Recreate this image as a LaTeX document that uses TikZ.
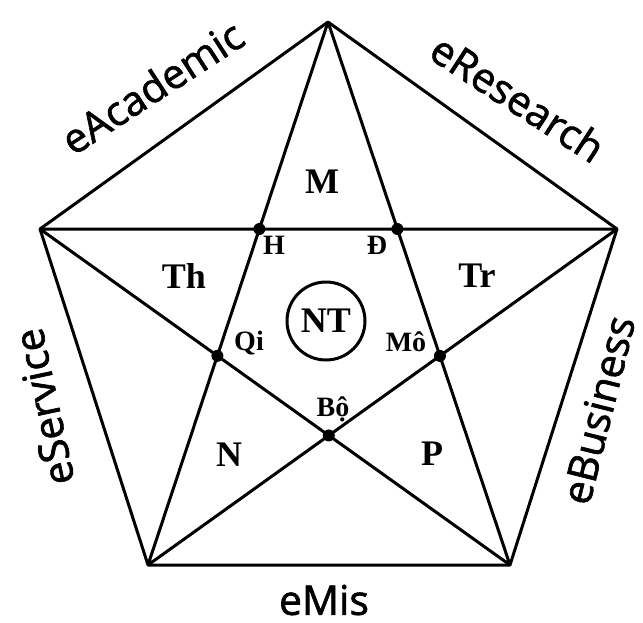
\documentclass[tikz,border=0pt]{standalone}
\usepackage{fontspec}
\setmainfont{Liberation Serif}
\newfontfamily\sidefont[FakeBold = 1.6]{Open Sans}
\begin{document}
\begin{tikzpicture}[x = 1pt, y = -1pt,
    edge/.style = {line width = 3pt, line join = round},
    junction/.style = {circle, fill, inner sep = 0pt, minimum size = 12pt},
    region/.style = {font = \fontsize{36}{36}\selectfont\bfseries},
    corner/.style = {font = \fontsize{28}{28}\selectfont\bfseries},
    side/.style = {inner sep = 0pt, font = \fontsize{41}{41}\selectfont\sidefont}]
      \useasboundingbox (0,0) rectangle (643,622);
      \coordinate (top) at (328,22);
      \coordinate (ul) at (40,229);
      \coordinate (ur) at (617,229);
      \coordinate (ll) at (148,565);
      \coordinate (lr) at (510,565);
      \draw [edge] (top) -- (ur) -- (lr) -- (ll) -- (ul) -- cycle;
      \draw [edge] (top) -- (ll) (top) -- (lr) (ul) -- (ur)
        (ul) -- (lr) (ur) -- (ll);
      \node [junction] (h) at (intersection of top--ll and ul--ur) {};
      \node [junction] (d) at (intersection of top--lr and ul--ur) {};
      \node [junction] (qi) at (intersection of top--ll and ul--lr) {};
      \node [junction] (mo) at (intersection of top--lr and ur--ll) {};
      \node [junction] (bo) at (intersection of ul--lr and ur--ll) {};
      \node [circle, draw, line width = 3pt, minimum size = 78pt,
             inner sep = 0pt, region] (nt) at (326,321) {NT};
      % labels of the regions
      \node [region] (m) at (322,182) {M};
      \node [region] (th) at (184,276) {Th};
      \node [region] (tr) at (477,276) {Tr};
      \node [region] (n) at (229,455) {N};
      \node [region] (p) at (432,454) {P};
      % labels of the points
      \node [corner] (hlab) at (274,245) {H};
      \node [corner] (dlab) at (377,245) {Đ};
      \node [corner] (qilab) at (249,343) {Qi};
      \node [corner] (molab) at (406,342) {Mô};
      \node [corner] (bolab) at (333,409) {Bộ};
      % sides
      \node [side, rotate = 33] (acad) at (152,87) {eAcademic};
      \node [side, rotate = -33] (res) at (518,98) {eResearch};
      \node [side, rotate = 102] (serv) at (44,407) {eService};
      \node [side, rotate = 76] (bus) at (598,410) {eBusiness};
      \node [side] (mis) at (324,600) {eMis};
    \end{tikzpicture}
\end{document}
